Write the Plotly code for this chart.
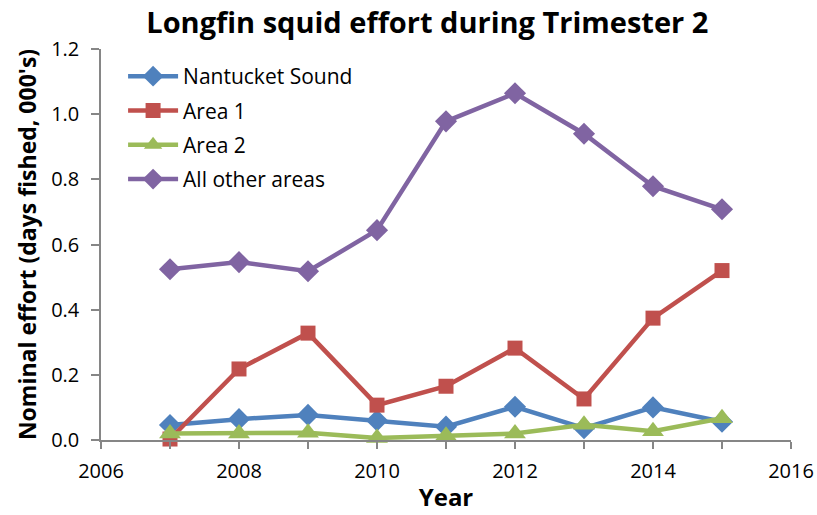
import plotly.graph_objects as go

years = [2007, 2008, 2009, 2010, 2011, 2012, 2013, 2014, 2015]
nantucket = [0.046, 0.064, 0.077, 0.060, 0.041, 0.102, 0.036, 0.100, 0.056]
area1 = [0.003, 0.218, 0.328, 0.107, 0.165, 0.282, 0.126, 0.374, 0.520]
area2 = [0.020, 0.020, 0.022, 0.006, 0.013, 0.020, 0.047, 0.027, 0.067]
other = [0.524, 0.546, 0.518, 0.644, 0.978, 1.064, 0.940, 0.779, 0.708]

series = [
    ("Nantucket Sound", nantucket, "#4F81BD", "diamond", 17),
    ("Area 1", area1, "#C0504D", "square", 15),
    ("Area 2", area2, "#9BBB59", "triangle-up", 19),
    ("All other areas", other, "#8064A2", "diamond", 17),
]

fig = go.Figure()
for i, (name, vals, col, sym, sz) in enumerate(series):
    fig.add_trace(go.Scatter(
        x=years, y=vals, name=name, mode="lines+markers",
        legendgroup=f"g{i}",
        line=dict(color=col, width=4.5),
        marker=dict(symbol=sym, size=sz, color=col),
        cliponaxis=False,
    ))

font = "'Open Sans', sans-serif"
fig.update_layout(
    width=817, height=515,
    margin=dict(l=101, r=26, t=49, b=75),
    paper_bgcolor="white", plot_bgcolor="white",
    title=dict(text="<b>Longfin squid effort during Trimester 2</b>",
               x=0.523, xanchor="center", y=0.955, yanchor="middle",
               font=dict(family=font, size=29, color="black")),
    font=dict(family=font, color="black"),
    showlegend=True,
    legend=dict(x=0.032, y=0.982, xanchor="left", yanchor="top",
                bgcolor="rgba(0,0,0,0)", font=dict(size=21, family=font),
                tracegroupgap=4, itemwidth=50),
    xaxis=dict(range=[2006, 2016], tickvals=[2006, 2008, 2010, 2012, 2014, 2016],
               showgrid=False, zeroline=False, showline=True, automargin=False,
               linecolor="#868686", linewidth=1.5, ticks="outside", ticklen=7,
               tickcolor="#868686", tickwidth=1.5, tickfont=dict(size=20),
               ticklabelstandoff=5,
               minor=dict(dtick=1, ticks="outside", ticklen=7, tickcolor="#868686",
                          tickwidth=1.5, showgrid=False),
               title=dict(text="<b>Year</b>", font=dict(size=24), standoff=6)),
    yaxis=dict(range=[0, 1.2], tickvals=[0, 0.2, 0.4, 0.6, 0.8, 1.0, 1.2],
               ticktext=["0.0", "0.2", "0.4", "0.6", "0.8", "1.0", "1.2"],
               showgrid=False, zeroline=False, showline=True, automargin=False,
               linecolor="#868686", linewidth=1.5, ticks="outside", ticklen=8,
               tickcolor="#868686", tickwidth=1.5, tickfont=dict(size=20),
               ticklabelstandoff=8,
               title=dict(text="<b>Nominal effort (days fished, 000's)</b>",
                          font=dict(size=23), standoff=8)),
)

fig.write_html("out.html")
